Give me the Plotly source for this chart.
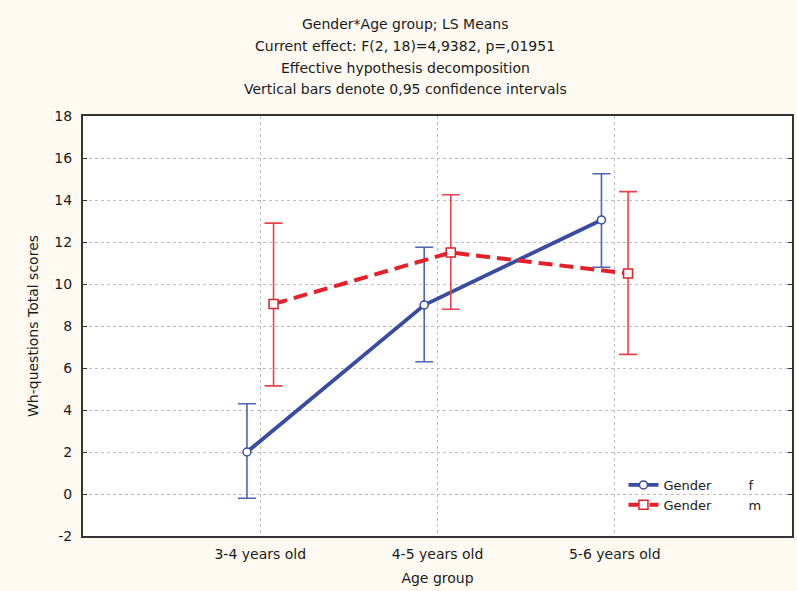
import plotly.graph_objects as go

categories = ["3-4 years old", "4-5 years old", "5-6 years old"]
f_mean = [2.0, 9.0, 13.05]
f_lower = [-0.2, 6.3, 10.8]
f_upper = [4.3, 11.75, 15.25]
m_mean = [9.05, 11.5, 10.5]
m_lower = [5.15, 8.8, 6.65]
m_upper = [12.9, 14.25, 14.4]
y_ticks = list(range(-2, 19, 2))
y_ticktext = [str(v) for v in y_ticks]
title_lines = [
    "Gender*Age group; LS Means",
    "Current effect: F(2, 18)=4,9382, p=,01951",
    "Effective hypothesis decomposition",
    "Vertical bars denote 0,95 confidence intervals",
]

FONT = "DejaVu Sans, sans-serif"
TXT = "#1a1a1a"
W, H = 797, 591
L, R, T, B = 83, 3, 116, 55
PW, PH = W - L - R, H - T - B

idx = list(range(len(categories)))
off = 0.075
fx = [i - off for i in idx]
mx = [i + off for i in idx]

NB = "\u00a0"

fig = go.Figure()
fig.add_trace(go.Scatter(
    x=fx, y=f_mean, mode="lines+markers", name="Gender" + NB * 9 + "f",
    line=dict(color="#3A4CA2", width=3.8),
    marker=dict(symbol="circle", size=8, color="white", line=dict(color="#3A4CA2", width=1.5)),
    error_y=dict(type="data", symmetric=False,
                 array=[u - m for u, m in zip(f_upper, f_mean)],
                 arrayminus=[m - l for m, l in zip(f_mean, f_lower)],
                 color="#4F64B4", thickness=1.6, width=9),
))
fig.add_trace(go.Scatter(
    x=mx, y=m_mean, mode="lines+markers", name="Gender" + NB * 9 + "m",
    line=dict(color="#E4202A", width=4, dash="14px,7px"),
    marker=dict(symbol="square", size=9, color="white", line=dict(color="#E4202A", width=1.5)),
    error_y=dict(type="data", symmetric=False,
                 array=[u - m for u, m in zip(m_upper, m_mean)],
                 arrayminus=[m - l for m, l in zip(m_mean, m_lower)],
                 color="#E8444C", thickness=1.6, width=9),
))

def py(pix):
    return (H - B - pix) / PH

def px(pix):
    return (pix - L) / PW

ann = []
for line, yp in zip(title_lines, [24, 46, 68, 89]):
    ann.append(dict(text=line, x=px(406), y=py(yp), xref="paper", yref="paper",
                    xanchor="center", yanchor="middle", showarrow=False,
                    font=dict(family=FONT, size=14, color=TXT)))

fig.update_layout(
    width=W, height=H,
    margin=dict(l=L, r=R, t=T, b=B),
    paper_bgcolor="#FFFAF1",
    plot_bgcolor="white",
    font=dict(family=FONT, size=14, color=TXT),
    annotations=ann,
    showlegend=True,
    legend=dict(x=px(625), y=py(470), xanchor="left", yanchor="top",
                bgcolor="rgba(0,0,0,0)", borderwidth=0,
                font=dict(family=FONT, size=13, color=TXT),
                itemwidth=30, tracegroupgap=0),
    xaxis=dict(range=[-1, 3], tickvals=idx, ticktext=categories,
               showgrid=True, gridcolor="#BDBDBD", griddash="dot", gridwidth=1,
               showline=True, linecolor="#333333", linewidth=2, mirror=True,
               ticks="", zeroline=False, ticklabelstandoff=4,
               title=dict(text="Age group", standoff=12,
                          font=dict(family=FONT, size=14, color=TXT)),
               tickfont=dict(family=FONT, size=14, color=TXT)),
    yaxis=dict(range=[-2, 18], tickvals=y_ticks, ticktext=y_ticktext,
               showgrid=True, gridcolor="#BDBDBD", griddash="dot", gridwidth=1,
               showline=True, linecolor="#333333", linewidth=2, mirror="ticks",
               ticks="inside", ticklen=4, tickcolor="#333333", zeroline=False,
               ticklabelstandoff=6,
               title=dict(text="Wh-questions Total scores", standoff=12,
                          font=dict(family=FONT, size=14, color=TXT)),
               tickfont=dict(family=FONT, size=14, color=TXT)),
)

fig.write_html("out.html", config={"displayModeBar": False},
               post_script="document.body.style.margin='0px';")
